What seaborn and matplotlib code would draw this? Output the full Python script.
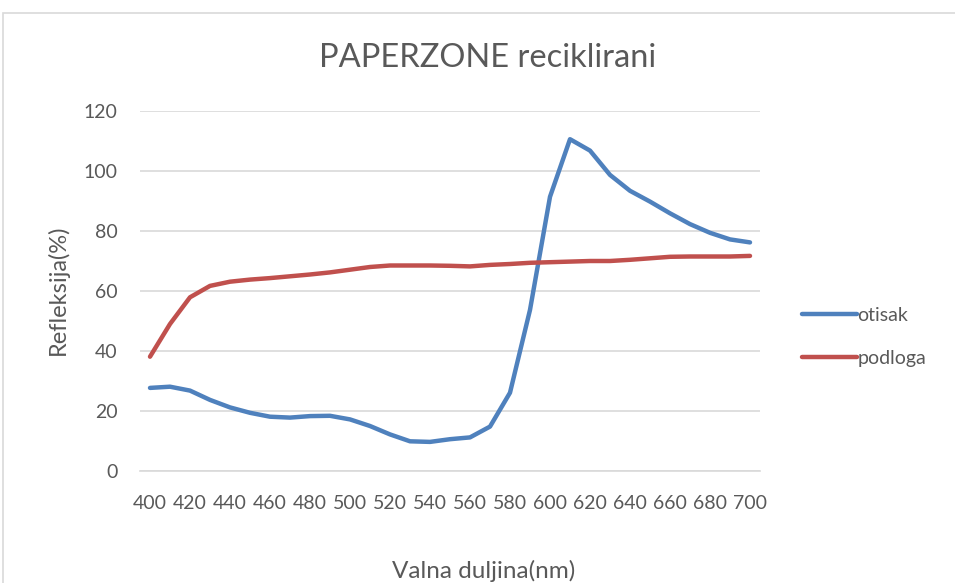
import numpy as np
import pandas as pd
import matplotlib
matplotlib.use('Agg')
import matplotlib.pyplot as plt
import seaborn as sns
from matplotlib.patches import Rectangle

# valne duljine i izmjerene refleksije
valna = list(range(400, 701, 10))
otisak = [27.7, 28.1, 26.8, 23.7, 21.2, 19.4, 18.1, 17.8, 18.3, 18.4, 17.2, 15.0, 12.2, 9.9, 9.7, 10.6,
          11.2, 14.8, 26.1, 53.7, 91.4, 110.6, 106.8, 98.7, 93.4, 89.8, 85.9, 82.3, 79.4, 77.2, 76.2]
podloga = [38.1, 49.0, 57.9, 61.7, 63.1, 63.8, 64.3, 64.9, 65.5, 66.2, 67.1, 68.0, 68.5, 68.5, 68.5, 68.4,
           68.2, 68.7, 69.0, 69.4, 69.6, 69.8, 70.0, 70.0, 70.4, 70.9, 71.4, 71.5, 71.5, 71.5, 71.7]
serije = ['otisak', 'podloga']
boje = ['#4F81BD', '#C0504D']
xticks = list(range(400, 701, 20))
yticks = [0, 20, 40, 60, 80, 100, 120]

df = pd.DataFrame({'valna': valna * 2,
                   'refleksija': otisak + podloga,
                   'serija': ['otisak'] * len(valna) + ['podloga'] * len(valna)})

sns.set_style('white')
plt.rcParams['font.family'] = ['Lato', 'DejaVu Sans']
txt = '#595959'

fig = plt.figure(figsize=(9.55, 5.83), dpi=100)
ax = fig.add_axes([140 / 955, 1 - 471 / 583, 620 / 955, 360 / 583])

sns.lineplot(data=df, x='valna', y='refleksija', hue='serija', hue_order=serije,
             palette=boje, linewidth=3.2, ax=ax, legend=False)

ax.set_xlim(395, 705)
ax.set_ylim(0, 120)
ax.set_xticks(xticks)
ax.set_yticks(yticks)
ax.tick_params(length=0, labelsize=14, colors=txt)
ax.tick_params(axis='x', pad=17)
ax.tick_params(axis='y', pad=16)
ax.grid(axis='y', color='#D9D9D9', linewidth=1.2)
for s in ['top', 'right', 'left']:
    ax.spines[s].set_visible(False)
ax.spines['bottom'].set_color('#D9D9D9')
ax.spines['bottom'].set_linewidth(1.2)
ax.set_xlabel('')
ax.set_ylabel('')

fig.text(484 / 955, 1 - 571 / 583, 'Valna duljina(nm)', fontsize=17.5, color=txt,
         ha='center', va='center')
fig.text(58 / 955, 1 - 290 / 583, 'Refleksija(%)', fontsize=17, color=txt,
         ha='center', va='center', rotation=90)
fig.text(488 / 955, 1 - 58 / 583, 'PAPERZONE reciklirani', fontsize=23.5, color=txt,
         ha='center', va='center')

handles = [plt.Line2D([], [], color=c, linewidth=3.2) for c in boje]
ax.legend(handles, serije, loc='center left', bbox_to_anchor=(1.04, 0.372), frameon=False,
          fontsize=14, labelcolor=txt, handlelength=2.8, handletextpad=0.02, labelspacing=1.35)

# okvir grafikona
fig.patches.append(Rectangle((3 / 955, -0.05), 960 / 955, 1 - 13 / 583 + 0.05,
                             transform=fig.transFigure, fill=False, edgecolor='#D9D9D9',
                             linewidth=1.2))

fig.savefig('out.png', dpi=100)
